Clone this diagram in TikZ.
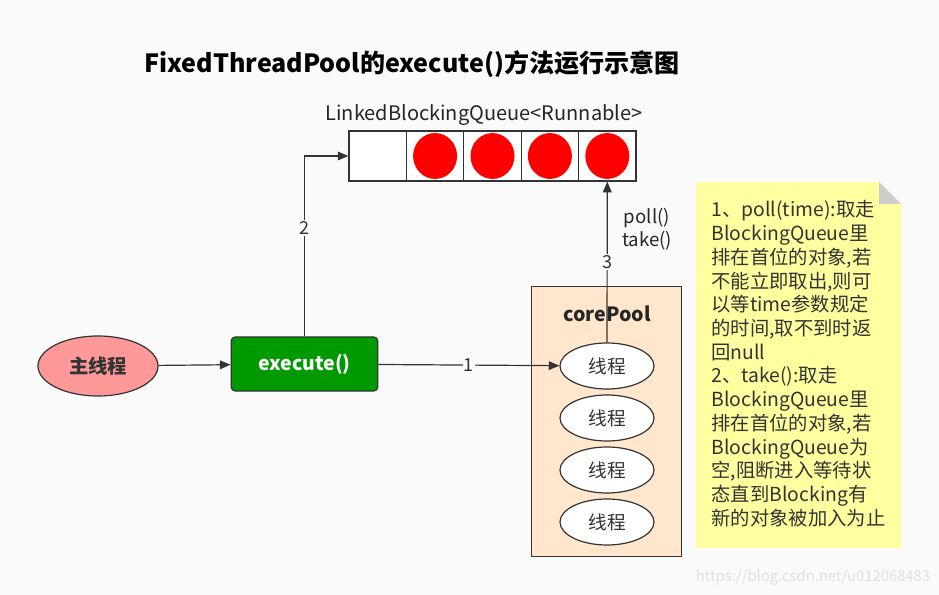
\documentclass[tikz,border=0pt]{standalone}
\usepackage{fontspec}
\setmainfont{Noto Sans CJK SC}
\usetikzlibrary{arrows.meta,shapes.geometric}
\definecolor{bgcol}{RGB}{250,250,250}
\definecolor{linecol}{RGB}{51,51,51}
\definecolor{mainfill}{RGB}{255,153,153}
\definecolor{execfill}{RGB}{0,153,0}
\definecolor{poolfill}{RGB}{255,230,204}
\definecolor{notefill}{RGB}{255,255,160}
\definecolor{foldcol}{RGB}{205,205,205}
\begin{document}
\begin{tikzpicture}[x=0.75pt,y=-0.75pt,line width=0.9pt,
  arr/.style={draw=linecol,-{Triangle[length=8pt,width=6.5pt]}},
  lbl/.style={fill=bgcol,inner sep=1pt,font=\fontsize{13.5}{15}\selectfont,text=linecol},
  cell/.style={draw=linecol,fill=white,minimum width=43pt,minimum height=37.5pt,inner sep=0pt},
  thread/.style={ellipse,draw=linecol,fill=white,minimum width=70.5pt,minimum height=34.5pt,inner sep=0pt,font=\fontsize{14}{16}\selectfont,text=linecol}]
\useasboundingbox[fill=bgcol] (0,0) rectangle (939,595);
%title
\node[font=\fontsize{18.8}{21}\selectfont\bfseries] (title) at (412,64) {FixedThreadPool的execute()方法运行示意图};
%queue
\node[font=\fontsize{15}{17}\selectfont,text=black!85] (qlabel) at (484,115) {LinkedBlockingQueue<Runnable>};
\foreach \i in {0,...,4}
  \node[cell] (c\i) at (377.7+57.4*\i,156) {};
\foreach \i in {1,...,4}
  \fill[red] (c\i) ellipse (16.5pt and 17.2pt);
%picture
\node[ellipse,draw=linecol,fill=mainfill,minimum width=90pt,minimum height=45pt,font=\fontsize{14.5}{16}\selectfont\bfseries,text=linecol] (main) at (98,366) {主线程};
\node[draw=linecol,fill=execfill,rounded corners=3pt,minimum width=110pt,minimum height=40.5pt,font=\fontsize{14.6}{16}\selectfont\bfseries,text=white] (exec) at (304.5,364) {execute()};
\node[draw=linecol,fill=poolfill,minimum width=112pt,minimum height=203pt] (pool) at (606.5,421.5) {};
\node[font=\fontsize{14.7}{16}\selectfont\bfseries,text=black!85] (pooltitle) at (607,314) {corePool};
\foreach \i/\y in {1/366,2/418,3/470,4/522}
  \node[thread] (t\i) at (607,\y) {线程};
\draw[arr] (main) -- (exec);
\draw[arr] (exec.north) |- node[lbl,pos=0.3]{2} (c0.west);
\draw[arr] (exec) -- node[lbl]{1} (t1);
\draw[arr] (t1.north) -- node[lbl]{3} (c4.south);
\node[font=\fontsize{14}{17.5}\selectfont,text=black!85,align=center] (ops) at (647,229) {poll()\\take()};
%explaination
\fill[notefill] (696,182) -- (879,182) -- (901,204) -- (901,548) -- (696,548) -- cycle;
\fill[foldcol] (879,182) -- (901,204) -- (879,204) -- cycle;
\node[anchor=north west,inner sep=0pt,align=left,font=\fontsize{14.5}{17.8}\selectfont,text=black!80] (note) at (711,200) {1、poll(time):取走\\BlockingQueue里\\排在首位的对象,若\\不能立即取出,则可\\以等time参数规定\\的时间,取不到时返\\回null\\2、take():取走\\BlockingQueue里\\排在首位的对象,若\\BlockingQueue为\\空,阻断进入等待状\\态直到Blocking有\\新的对象被加入为止};
\node[font=\fontsize{11.1}{13}\selectfont,text=black!12] (mark) at (813,577) {https://blog.csdn.net/u012068483};
\end{tikzpicture}
\end{document}
